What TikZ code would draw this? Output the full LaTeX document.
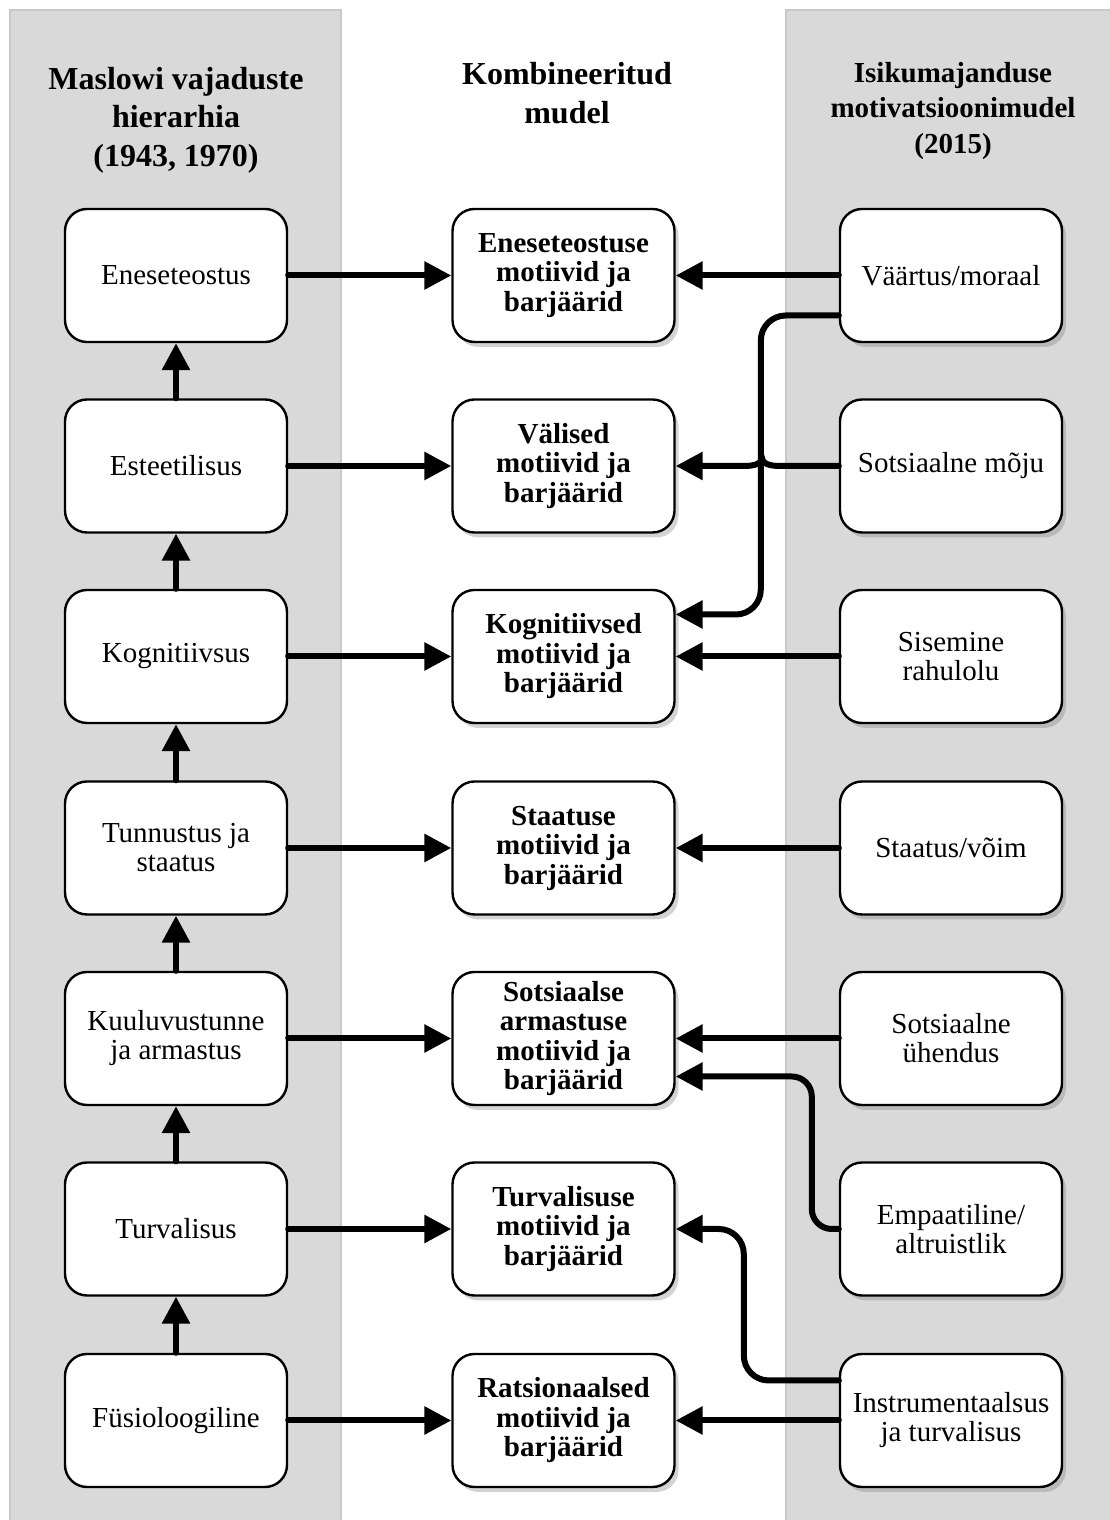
\documentclass[tikz,border=0pt]{standalone}
\usepackage{fontspec}
\setmainfont{Liberation Serif}
\usetikzlibrary{arrows.meta}
\usetikzlibrary{shadows}
\usepackage{xcolor}
\definecolor{panelgray}{HTML}{D9D9D9}
\definecolor{panelline}{HTML}{C9C9C9}

\begin{document}
\begin{tikzpicture}[x=1pt,y=1pt,
 box/.style={draw, line width=2.4pt, rounded corners=22pt, fill=white, minimum width=222pt, minimum height=133pt, align=center, inner sep=2pt, font=\fontsize{29}{29}\selectfont},
 mbox/.style={box, font=\fontsize{29}{29.5}\selectfont\bfseries, drop shadow={shadow xshift=4pt, shadow yshift=-5pt, opacity=.35}},
 rbox/.style={box, drop shadow={shadow xshift=4pt, shadow yshift=-5pt, opacity=.35}},
 head/.style={align=center, font=\fontsize{32}{38.5}\selectfont\bfseries},
 arr/.style={line width=6pt, line cap=round, -{Triangle[length=27pt,width=27pt]}}]
\useasboundingbox (0,0) rectangle (1109,1520);
% panels
\filldraw[fill=panelgray, draw=panelline, line width=1.5pt] (10,-10) rectangle (341,1510);
\filldraw[fill=panelgray, draw=panelline, line width=1.5pt] (786,-10) rectangle (1125,1510);
% headers
\node[head] (hmaslow) at (176,1400) {Maslowi vajaduste\\hierarhia\\(1943, 1970)};
\node[head] (hkomb) at (567,1427) {Kombineeritud\\mudel};
\node[head, font=\fontsize{29}{35.5}\selectfont\bfseries] (hisik) at (953,1409) {Isikumajanduse\\motivatsioonimudel\\(2015)};
% Maslow
\node[box] (enes) at (176,1244.5) {Eneseteostus};
\node[box] (esteet) at (176,1054) {Esteetilisus};
\node[box] (kogn) at (176,863.5) {Kognitiivsus};
\node[box] (tunn) at (176,672) {Tunnustus ja\\staatus};
\node[box] (kuul) at (176,481.5) {Kuuluvustunne\\ja armastus};
\node[box] (turv) at (176,291) {Turvalisus};
\node[box] (fys) at (176,99.5) {Füsioloogiline};
% kombineeritud
\node[mbox] (menes) at (563.5,1244.5) {Eneseteostuse\\motiivid ja\\barjäärid};
\node[mbox] (mval) at (563.5,1054) {Välised\\motiivid ja\\barjäärid};
\node[mbox] (mkogn) at (563.5,863.5) {Kognitiivsed\\motiivid ja\\barjäärid};
\node[mbox] (mstaat) at (563.5,672) {Staatuse\\motiivid ja\\barjäärid};
\node[mbox] (msots) at (563.5,481.5) {Sotsiaalse\\armastuse\\motiivid ja\\barjäärid};
\node[mbox] (mturv) at (563.5,291) {Turvalisuse\\motiivid ja\\barjäärid};
\node[mbox] (mrats) at (563.5,99.5) {Ratsionaalsed\\motiivid ja\\barjäärid};
% isikumajandus
\node[rbox] (vaart) at (951,1244.5) {Väärtus/moraal};
\node[rbox] (smoju) at (951,1054) {Sotsiaalne mõju};
\node[rbox] (sisem) at (951,863.5) {Sisemine\\rahulolu};
\node[rbox] (staat) at (951,672) {Staatus/võim};
\node[rbox] (sueh) at (951,481.5) {Sotsiaalne\\ühendus};
\node[rbox] (empa) at (951,291) {Empaatiline/\\altruistlik};
\node[rbox] (instr) at (951,99.5) {Instrumentaalsus\\ja turvalisus};
% arrows
\foreach \a/\b in {esteet/enes, kogn/esteet, tunn/kogn, kuul/tunn, turv/kuul, fys/turv}
 \draw[arr] (\a.north) -- (\b.south);
\foreach \a/\b in {enes/menes, esteet/mval, kogn/mkogn, tunn/mstaat, kuul/msots, turv/mturv, fys/mrats}
 \draw[arr] (\a.east) -- (\b.west);
\foreach \a/\b in {vaart/menes, sisem/mkogn, staat/mstaat, sueh/msots, instr/mrats}
 \draw[arr] (\a.west) -- (\b.east);
\draw[arr, rounded corners=25pt] ([yshift=-40pt]vaart.west) -- ++(-78,0) |- ([yshift=42pt]mkogn.east);
\draw[arr] (smoju.west) -- (780,1054) .. controls (768,1054) and (762,1057) .. (762,1062)
 .. controls (762,1057) and (756,1054) .. (744,1054) -- (mval.east);
\draw[arr, rounded corners=20pt] (empa.west) -- ++(-27,0) |- ([yshift=-38pt]msots.east);
\draw[arr, rounded corners=25pt] ([yshift=40pt]instr.west) -- ++(-95,0) |- (mturv.east);
\end{tikzpicture}
\end{document}
